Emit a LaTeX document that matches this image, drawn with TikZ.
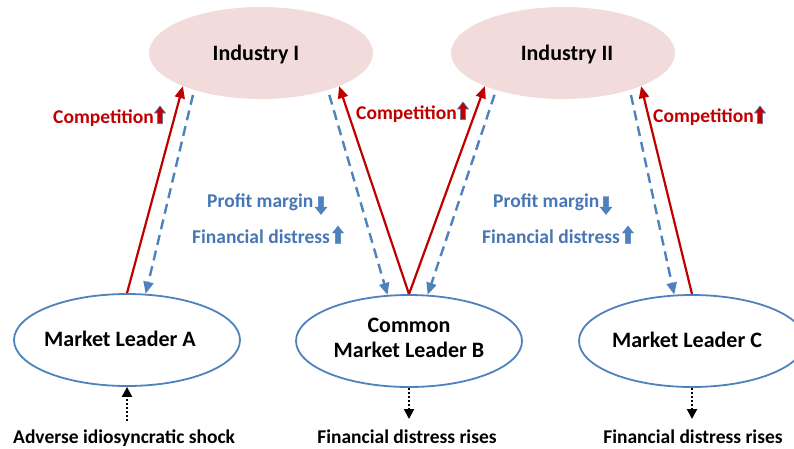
\documentclass[tikz,border=0pt]{standalone}
\usepackage{fontspec}
\setmainfont{Carlito}
\usetikzlibrary{shapes.geometric,arrows.meta}
\definecolor{myred}{HTML}{C00000}
\definecolor{myblue}{HTML}{4F81BD}
\definecolor{txtblue}{HTML}{4677B4}
\definecolor{mypink}{HTML}{F2DCDB}
\begin{document}
\begin{tikzpicture}[x=1pt,y=-1pt,
  industry/.style={ellipse, fill=mypink, minimum width=224pt, minimum height=92pt, inner sep=0},
  leader/.style={ellipse, draw=myblue, line width=1.8pt, minimum width=226pt, minimum height=92pt, inner sep=0},
  big/.style={font=\fontsize{22}{25}\selectfont\bfseries, inner sep=0, align=center},
  lab/.style={font=\fontsize{19.5}{22}\selectfont\bfseries, inner sep=0, anchor=base west},
  redarr/.style={draw=myred, line width=2.2pt, -{Triangle[length=12pt,width=10pt]}},
  bluearr/.style={draw=myblue, line width=2.4pt, dash pattern=on 10pt off 6pt, shorten <=5pt, -{Triangle[length=12pt,width=10pt]}},
  blkarr/.style={draw=black, line width=2pt, dash pattern=on 2pt off 2pt, -{Triangle[length=10pt,width=10pt]}},
  blockup/.pic={\filldraw[pic actions] (-2.6,8.5) -- (-2.6,-2) -- (-5.5,-2) -- (0,-9) -- (5.5,-2) -- (2.6,-2) -- (2.6,8.5) -- cycle;},
  blockdown/.pic={\filldraw[pic actions] (-2.6,-8.5) -- (-2.6,2) -- (-6,2) -- (0,9.5) -- (6,2) -- (2.6,2) -- (2.6,-8.5) -- cycle;}
]
\useasboundingbox (0,0) rectangle (794,448);
\clip (0,0) rectangle (794,448);

% industries
\node[industry] (I1) at (261,53) {};
\node[industry] (I2) at (563,53) {};
\node[big, anchor=base] (I1t) at (256,60) {Industry I};
\node[big, anchor=base] (I2t) at (567,60) {Industry II};

% market leaders
\node[leader] (A) at (127,340) {};
\node[leader] (B) at (409,341) {};
\node[leader] (C) at (692,341) {};
\node[big, anchor=base] (At) at (120,346) {Market Leader A};
\node[big, anchor=base] (Bt1) at (409,332) {Common};
\node[big, anchor=base] (Bt2) at (409,357) {Market Leader B};
\node[big, anchor=base] (Ct) at (687,347) {Market Leader C};

% connectors
\draw[redarr] (A.north) -- (I1.203);
\draw[bluearr] (I1.209) -- (A.68);
\draw[bluearr] (I1.331) -- (B.115);
\draw[redarr] (B.north) -- (I1.337);
\draw[redarr] (B.north) -- (I2.203);
\draw[bluearr] (I2.209) -- (B.68);
\draw[bluearr] (I2.331) -- (C.111);
\draw[redarr] (C.north) -- (I2.337);

% competition labels
\node[lab, text=myred] (c1) at (53,123) {Competition};
\node[lab, text=myred] (c2) at (356,119) {Competition};
\node[lab, text=myred] (c3) at (653,122) {Competition};
\pic[fill=myred, draw=myblue, line width=0.6pt] at (160,115) {blockup};
\pic[fill=myred, draw=myblue, line width=0.6pt] at (463,111) {blockup};
\pic[fill=myred, draw=myblue, line width=0.6pt] at (760,115) {blockup};

% profit / distress labels
\node[lab, text=txtblue] (p1) at (207,207) {Profit margin};
\node[lab, text=txtblue] (f1) at (192,243) {Financial distress};
\node[lab, text=txtblue] (p2) at (493,207) {Profit margin};
\node[lab, text=txtblue] (f2) at (482,243) {Financial distress};
\pic[fill=myblue, draw=myblue, line width=0.4pt] at (321,205) {blockdown};
\pic[fill=myblue, draw=myblue, line width=0.4pt] at (338,235) {blockup};
\pic[fill=myblue, draw=myblue, line width=0.4pt] at (606,205) {blockdown};
\pic[fill=myblue, draw=myblue, line width=0.4pt] at (628,235) {blockup};

% bottom
\node[lab] (sh) at (13,443) {Adverse idiosyncratic shock};
\node[lab, anchor=base] (fb) at (407,443) {Financial distress rises};
\node[lab, anchor=base] (fc) at (693,443) {Financial distress rises};
\coordinate (sA) at (127,421);
\coordinate (eB) at (409,419);
\coordinate (eC) at (692,419);
\draw[blkarr] (sA) -- (A.south);
\draw[blkarr] (B.south) -- (eB);
\draw[blkarr] (C.south) -- (eC);
\end{tikzpicture}
\end{document}
